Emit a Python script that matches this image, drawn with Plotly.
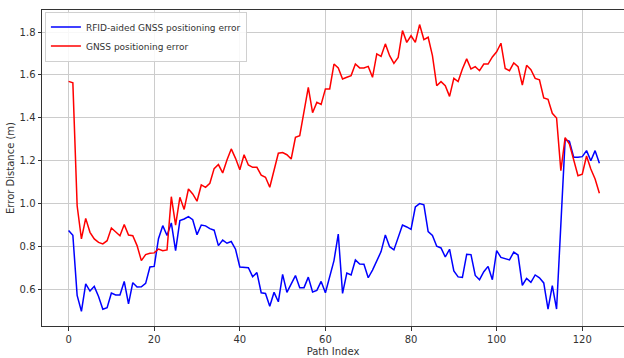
import plotly.graph_objects as go

path_index = list(range(125))

rfid_error = [
    0.875, 0.852, 0.572, 0.497, 0.625, 0.592, 0.614, 0.567, 0.507, 0.514,
    0.583, 0.574, 0.574, 0.637, 0.532, 0.631, 0.611, 0.612, 0.628, 0.704,
    0.707, 0.836, 0.897, 0.851, 0.910, 0.781, 0.921, 0.928, 0.939, 0.925,
    0.855, 0.900, 0.896, 0.883, 0.876, 0.804, 0.830, 0.815, 0.823, 0.787,
    0.704, 0.704, 0.701, 0.659, 0.678, 0.584, 0.581, 0.521, 0.586, 0.542,
    0.670, 0.586, 0.625, 0.664, 0.608, 0.608, 0.657, 0.588, 0.595, 0.637,
    0.584, 0.665, 0.734, 0.858, 0.581, 0.676, 0.667, 0.737, 0.718, 0.717,
    0.654, 0.690, 0.731, 0.776, 0.854, 0.799, 0.784, 0.843, 0.900, 0.891,
    0.880, 0.984, 1.000, 0.994, 0.869, 0.851, 0.801, 0.793, 0.751, 0.787,
    0.686, 0.658, 0.656, 0.763, 0.762, 0.665, 0.645, 0.682, 0.707, 0.645,
    0.781, 0.749, 0.743, 0.737, 0.774, 0.760, 0.619, 0.651, 0.633, 0.667,
    0.654, 0.630, 0.508, 0.617, 0.508, 0.900, 1.298, 1.290, 1.216, 1.216,
    1.219, 1.247, 1.200, 1.247, 1.188,
]

gnss_error = [
    1.570, 1.563, 0.990, 0.835, 0.931, 0.866, 0.835, 0.819, 0.812, 0.827,
    0.886, 0.866, 0.850, 0.902, 0.853, 0.850, 0.804, 0.734, 0.762, 0.768,
    0.770, 0.788, 0.780, 0.784, 1.032, 0.900, 1.029, 0.973, 1.068, 1.045,
    1.011, 1.087, 1.076, 1.095, 1.163, 1.182, 1.143, 1.203, 1.255, 1.211,
    1.158, 1.228, 1.180, 1.169, 1.169, 1.133, 1.123, 1.076, 1.157, 1.235,
    1.238, 1.228, 1.208, 1.309, 1.317, 1.434, 1.542, 1.424, 1.472, 1.462,
    1.535, 1.535, 1.651, 1.633, 1.581, 1.589, 1.597, 1.651, 1.633, 1.633,
    1.640, 1.589, 1.698, 1.687, 1.745, 1.690, 1.654, 1.682, 1.807, 1.752,
    1.783, 1.752, 1.835, 1.765, 1.776, 1.690, 1.550, 1.569, 1.550, 1.500,
    1.584, 1.569, 1.628, 1.675, 1.628, 1.639, 1.620, 1.651, 1.651, 1.684,
    1.708, 1.748, 1.630, 1.620, 1.656, 1.639, 1.553, 1.645, 1.625, 1.584,
    1.577, 1.493, 1.486, 1.421, 1.399, 1.154, 1.308, 1.278, 1.208, 1.130,
    1.137, 1.222, 1.161, 1.115, 1.048,
]

x_ticks = [0, 20, 40, 60, 80, 100, 120]
y_ticks = [0.6, 0.8, 1.0, 1.2, 1.4, 1.6, 1.8]

font_family = "DejaVu Sans"

fig = go.Figure()
fig.add_trace(go.Scatter(
    x=path_index, y=rfid_error, mode="lines",
    name="RFID-aided GNSS positioning error",
    line=dict(color="#0000ff", width=1.5),
))
fig.add_trace(go.Scatter(
    x=path_index, y=gnss_error, mode="lines",
    name="GNSS positioning error",
    line=dict(color="#ff0000", width=1.5),
))

axis_common = dict(
    showgrid=True, gridcolor="#cccccc", gridwidth=1,
    showline=True, linecolor="#333333", linewidth=1, mirror=True,
    ticks="outside", ticklen=3.5, tickwidth=1, tickcolor="#333333",
    zeroline=False,
    tickfont=dict(family=font_family, size=10, color="#333333"),
    title_font=dict(family=font_family, size=10, color="#333333"),
)

fig.update_layout(
    width=624, height=358,
    margin=dict(l=42, r=0, t=10, b=32),
    plot_bgcolor="white", paper_bgcolor="white",
    font=dict(family=font_family, size=10, color="#333333"),
    xaxis=dict(
        range=[-6.21, 129.75], tickvals=x_ticks,
        title=dict(text="Path Index", standoff=4),
        **axis_common,
    ),
    yaxis=dict(
        range=[0.429, 1.903], tickvals=y_ticks, tickformat=".1f",
        title=dict(text="Error Distance (m)", standoff=3),
        **axis_common,
    ),
    legend=dict(
        x=0.005, y=0.995, xanchor="left", yanchor="top",
        bgcolor="rgba(255,255,255,0.85)", bordercolor="#d0d0d0", borderwidth=1,
        font=dict(family=font_family, size=9, color="#333333"),
        itemwidth=30, tracegroupgap=0,
    ),
    showlegend=True,
)

fig.write_html("out.html")
